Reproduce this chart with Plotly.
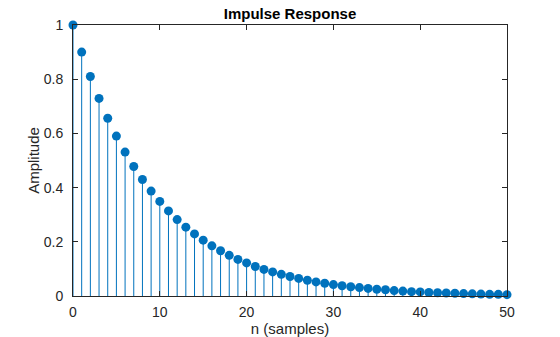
import plotly.graph_objects as go

samples = list(range(51))
amplitude = [1.000, 0.900, 0.810, 0.729, 0.656, 0.590, 0.531, 0.478, 0.430, 0.387,
             0.349, 0.314, 0.282, 0.254, 0.229, 0.206, 0.185, 0.167, 0.150, 0.135,
             0.122, 0.109, 0.098, 0.089, 0.080, 0.072, 0.065, 0.058, 0.052, 0.047,
             0.042, 0.038, 0.034, 0.031, 0.028, 0.025, 0.023, 0.020, 0.018, 0.016,
             0.015, 0.013, 0.012, 0.011, 0.010, 0.009, 0.008, 0.007, 0.006, 0.006,
             0.005]
x_ticks = [0, 10, 20, 30, 40, 50]
y_ticks = [0, 0.2, 0.4, 0.6, 0.8, 1]
y_tick_labels = ["0", "0.2", "0.4", "0.6", "0.8", "1"]

color = "#0072BD"
axis_color = "#262626"

sx, sy = [], []
for n, a in zip(samples, amplitude):
    sx += [n, n, None]
    sy += [0, a, None]

fig = go.Figure()
fig.add_trace(go.Scatter(x=sx, y=sy, mode="lines", line=dict(color=color, width=1),
                         cliponaxis=False, hoverinfo="skip"))
fig.add_trace(go.Scatter(x=samples, y=amplitude, mode="markers",
                         marker=dict(color=color, size=9, line=dict(width=0)),
                         cliponaxis=False))

font_family = "Liberation Sans, Arial, sans-serif"
fig.update_layout(
    width=560, height=337,
    margin=dict(l=73, r=53, t=25, b=41, autoexpand=False),
    paper_bgcolor="white", plot_bgcolor="white",
    showlegend=False,
    font=dict(family=font_family, size=14, color=axis_color),
    title=dict(text="<b>Impulse Response</b>", x=0.5, xanchor="center",
               y=1 - 14 / 337, yanchor="middle",
               xref="paper", font=dict(size=15, color="black")),
    xaxis=dict(range=[0, 50], tickvals=x_ticks, showgrid=False, zeroline=False,
               automargin=False,
               showline=True, linecolor=axis_color, linewidth=1, mirror="ticks",
               ticks="inside", ticklen=5, tickcolor=axis_color, ticklabelstandoff=3,
               title=dict(text="n (samples)", font=dict(size=15), standoff=4)),
    yaxis=dict(range=[0, 1], tickvals=y_ticks, ticktext=y_tick_labels, showgrid=False,
               automargin=False,
               zeroline=False, showline=True, linecolor=axis_color, linewidth=1,
               mirror="ticks", ticks="inside", ticklen=5, tickcolor=axis_color,
               ticklabelstandoff=6,
               title=dict(text="Amplitude", font=dict(size=15), standoff=0)),
)

fig.write_html("out.html")
